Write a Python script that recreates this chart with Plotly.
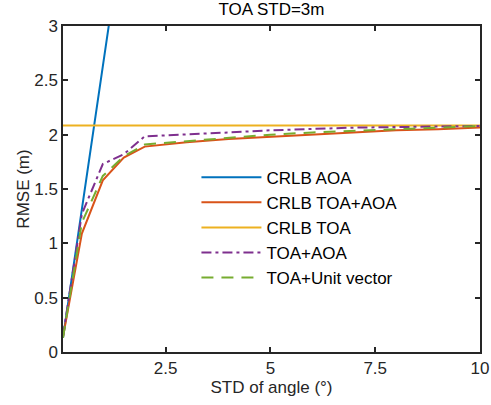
import plotly.graph_objects as go

# ---- data ----
std_angle = [0.05, 0.5, 1, 1.5, 2, 3, 4, 5, 6, 7, 8, 9, 10]
crlb_aoa = [0.13, 1.31, 2.63, 3.95, 5.26, 7.89, 10.52, 13.15, 15.78, 18.41, 21.04, 23.67, 26.3]
crlb_toa_aoa = [0.14, 1.09, 1.58, 1.79, 1.89, 1.93, 1.96, 1.98, 2.00, 2.02, 2.04, 2.05, 2.065]
crlb_toa = [2.085] * len(std_angle)
toa_aoa = [0.15, 1.27, 1.73, 1.82, 1.985, 2.00, 2.02, 2.04, 2.055, 2.065, 2.07, 2.075, 2.08]
toa_unit = [0.13, 1.19, 1.62, 1.80, 1.91, 1.94, 1.97, 2.00, 2.02, 2.035, 2.05, 2.065, 2.08]

names = ["CRLB AOA", "CRLB TOA+AOA", "CRLB TOA", "TOA+AOA", "TOA+Unit vector"]
series = [crlb_aoa, crlb_toa_aoa, crlb_toa, toa_aoa, toa_unit]
colors = ["#0072BD", "#D95319", "#EDB120", "#7E2F8E", "#77AC30"]
dashes = ["solid", "solid", "solid", "10px,4px,3px,4px", "12px,8px"]

x_ticks = [2.5, 5, 7.5, 10]
x_tick_labels = ["2.5", "5", "7.5", "10"]
y_ticks = [0, 0.5, 1, 1.5, 2, 2.5, 3]
y_tick_labels = ["0", "0.5", "1", "1.5", "2", "2.5", "3"]

FONT = "Liberation Sans, Arial"

fig = go.Figure()
for name, ys, c, d in zip(names, series, colors, dashes):
    fig.add_trace(go.Scatter(x=std_angle, y=ys, mode="lines", name=name,
                             line=dict(color=c, width=2, dash=d)))

axis_common = dict(showline=True, linecolor="#262626", linewidth=1.5, mirror="ticks",
                   ticks="inside", ticklen=5, tickwidth=1.5, tickcolor="#262626",
                   showgrid=False, zeroline=False, automargin=False,
                   tickfont=dict(family=FONT, size=17, color="#262626"))

fig.update_layout(
    width=491, height=405,
    margin=dict(l=63, r=11, t=26, b=53),
    paper_bgcolor="white", plot_bgcolor="white",
    font=dict(family=FONT, size=17, color="#262626"),
    title=dict(text="TOA STD=3m", x=0.5, xref="paper", xanchor="center",
               y=1, yref="container", yanchor="top", pad=dict(t=3),
               font=dict(size=17, color="#000000")),
    xaxis=dict(range=[0.05, 10], tickvals=x_ticks, ticktext=x_tick_labels,
               title=dict(text="STD of angle (°)", standoff=2,
                          font=dict(size=17, color="#262626")), **axis_common),
    yaxis=dict(range=[0, 3], tickvals=y_ticks, ticktext=y_tick_labels,
               title=dict(text="RMSE (m)", standoff=0,
                          font=dict(size=17, color="#262626")), **axis_common),
    legend=dict(x=0.32, y=0.59, xanchor="left", yanchor="top",
                bgcolor="rgba(255,255,255,0)", borderwidth=0,
                font=dict(size=17, color="#000000"), itemwidth=60,
                tracegroupgap=0),
    showlegend=True,
)

fig.write_html("out.html",
               config={"displayModeBar": False},
               post_script="document.body.style.margin='0';document.body.style.padding='0';")
